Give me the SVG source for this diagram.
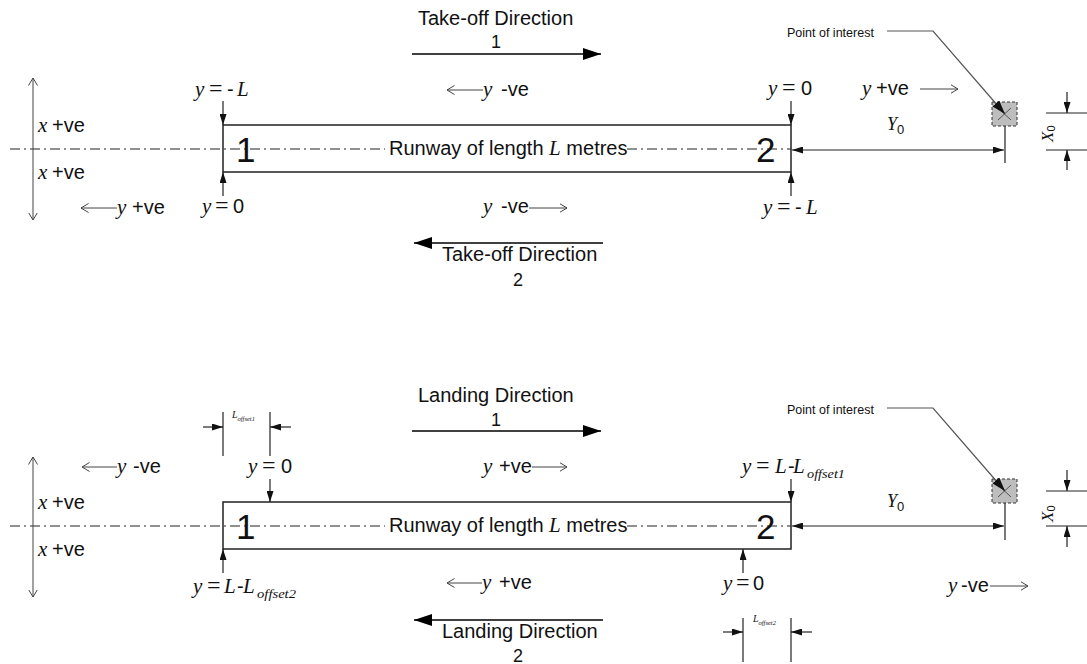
<svg xmlns="http://www.w3.org/2000/svg" width="1087" height="664" viewBox="0 0 1087 664">
<style>
text{font-family:"Liberation Sans",Arial,sans-serif;font-size:20px;fill:#111}
.i{font-family:"Liberation Serif","Times New Roman",serif;font-style:italic;font-size:21px}
.eq{font-family:"Liberation Serif","Times New Roman",serif;font-size:24px}
.sub{font-family:"Liberation Serif","Times New Roman",serif;font-style:italic;font-size:12px}
.big{font-size:35px}
.d{font-size:18px}
.poi{font-size:12.5px}
.rw{fill:#fff;stroke:#222;stroke-width:1.5}
.cl{stroke:#222;stroke-width:1.2;stroke-dasharray:10 4 2 4;fill:none}
.dim{stroke:#222;stroke-width:1.2;fill:none}
.thin{stroke:#444;stroke-width:1;fill:none}
.dir{stroke:#000;stroke-width:1.5;fill:none}
.ld{stroke:#555;stroke-width:1.2;fill:none}
.box{fill:#bdbdbd;stroke:#333;stroke-width:1;stroke-dasharray:3 2}
</style>
<defs>
<marker id="big" viewBox="0 0 18 12" refX="18" refY="6" markerWidth="18" markerHeight="12" markerUnits="userSpaceOnUse" orient="auto"><path d="M0,0 L18,6 L0,12 Z" fill="#000"/></marker>
<marker id="sm" viewBox="0 0 11 7" refX="11" refY="3.5" markerWidth="11" markerHeight="7" markerUnits="userSpaceOnUse" orient="auto-start-reverse"><path d="M0,0 L11,3.5 L0,7 Z" fill="#111"/></marker>
<marker id="op" viewBox="0 0 8 10" refX="7.5" refY="5" markerWidth="8" markerHeight="10" markerUnits="userSpaceOnUse" orient="auto-start-reverse"><path d="M0,0.5 L7.5,5 L0,9.5" fill="none" stroke="#444" stroke-width="1"/></marker>
<marker id="lead" viewBox="0 0 14 9" refX="14" refY="4.5" markerWidth="14" markerHeight="9" markerUnits="userSpaceOnUse" orient="auto"><path d="M0,0 L14,4.5 L0,9 Z" fill="#111"/></marker>
</defs>

<!-- ============ TOP: TAKE-OFF ============ -->
<g id="runway-top">
<rect class="rw" x="223" y="125" width="568" height="47"/>
<line class="cl" x1="10" y1="149" x2="385" y2="149"/>
<line class="cl" x1="627" y1="149" x2="791" y2="149"/>
<text class="big" x="236" y="162">1</text>
<text class="big" x="756" y="162">2</text>
<text x="389" y="155">Runway of length <tspan class="i">L</tspan> metres</text>
</g>
<g id="point-top">
<rect class="box" x="992" y="102" width="25" height="24"/>
<path d="M998,108 L1011,120 M1011,108 L998,120" stroke="#555" stroke-width="1" fill="none"/>
<text class="poi" x="787" y="37">Point of interest</text>
</g>
<g id="labels-top">
<text x="418" y="25">Take-off Direction</text>
<text class="d" x="496" y="48" text-anchor="middle">1</text>
<text x="442" y="261">Take-off Direction</text>
<text class="d" x="518" y="286" text-anchor="middle">2</text>
<text x="38" y="132"><tspan class="i">x</tspan><tspan x="52">+ve</tspan></text>
<text x="38" y="179"><tspan class="i">x</tspan><tspan x="52">+ve</tspan></text>
<text x="117" y="214"><tspan class="i">y</tspan><tspan x="132">+ve</tspan></text>
<text x="195" y="96"><tspan class="i">y</tspan><tspan class="eq" x="209">=</tspan><tspan x="227">-</tspan><tspan class="i" x="237">L</tspan></text>
<text x="202" y="213"><tspan class="i">y</tspan><tspan class="eq" x="215">=</tspan><tspan x="233">0</tspan></text>
<text x="483" y="96"><tspan class="i">y</tspan><tspan x="501">-ve</tspan></text>
<text x="483" y="213"><tspan class="i">y</tspan><tspan x="501">-ve</tspan></text>
<text x="768" y="95"><tspan class="i">y</tspan><tspan class="eq" x="782">=</tspan><tspan x="801">0</tspan></text>
<text x="763" y="214"><tspan class="i">y</tspan><tspan class="eq" x="777">=</tspan><tspan x="795">-</tspan><tspan class="i" x="806">L</tspan></text>
<text x="862" y="95"><tspan class="i">y</tspan><tspan x="876">+ve</tspan></text>
<text x="887" y="130"><tspan class="i" style="font-size:18px">Y</tspan><tspan style="font-size:13px" dy="4">0</tspan></text>
<text transform="translate(1053,142) rotate(-90)"><tspan class="i" style="font-size:17px">X</tspan><tspan style="font-size:11px" dy="2">0</tspan></text>
</g>

<!-- ============ BOTTOM: LANDING ============ -->
<g id="runway-bottom">
<rect class="rw" x="223" y="502" width="568" height="47"/>
<line class="cl" x1="10" y1="526" x2="385" y2="526"/>
<line class="cl" x1="627" y1="526" x2="791" y2="526"/>
<text class="big" x="236" y="539">1</text>
<text class="big" x="756" y="539">2</text>
<text x="389" y="532">Runway of length <tspan class="i">L</tspan> metres</text>
</g>
<g id="point-bottom">
<rect class="box" x="992" y="479" width="25" height="24"/>
<path d="M998,485 L1011,497 M1011,485 L998,497" stroke="#555" stroke-width="1" fill="none"/>
<text class="poi" x="787" y="414">Point of interest</text>
</g>
<g id="labels-bottom">
<text x="418" y="402">Landing Direction</text>
<text class="d" x="496" y="426" text-anchor="middle">1</text>
<text x="442" y="638">Landing Direction</text>
<text class="d" x="518" y="662" text-anchor="middle">2</text>
<text x="38" y="509"><tspan class="i">x</tspan><tspan x="52">+ve</tspan></text>
<text x="38" y="556"><tspan class="i">x</tspan><tspan x="52">+ve</tspan></text>
<text x="117" y="473"><tspan class="i">y</tspan><tspan x="133">-ve</tspan></text>
<text x="248" y="473"><tspan class="i">y</tspan><tspan class="eq" x="262">=</tspan><tspan x="281">0</tspan></text>
<text x="193" y="593"><tspan class="i">y</tspan><tspan class="eq" x="207">=</tspan><tspan class="i" x="224">L</tspan><tspan x="237">-</tspan><tspan class="i" x="243">L</tspan><tspan class="sub" x="257" dy="5" textLength="39" lengthAdjust="spacingAndGlyphs">offset2</tspan></text>
<text x="483" y="473"><tspan class="i">y</tspan><tspan x="499">+ve</tspan></text>
<text x="482" y="589"><tspan class="i">y</tspan><tspan x="499">+ve</tspan></text>
<text x="742" y="473"><tspan class="i">y</tspan><tspan class="eq" x="756">=</tspan><tspan class="i" x="775">L</tspan><tspan x="788">-</tspan><tspan class="i" x="793">L</tspan><tspan class="sub" x="807" dy="5" textLength="38" lengthAdjust="spacingAndGlyphs">offset1</tspan></text>
<text x="723" y="590"><tspan class="i">y</tspan><tspan class="eq" x="736">=</tspan><tspan x="753">0</tspan></text>
<text x="948" y="592"><tspan class="i">y</tspan><tspan x="961">-ve</tspan></text>
<text x="232" y="418"><tspan class="i" style="font-size:10px">L</tspan><tspan class="i" style="font-size:6.5px" dy="3">offset1</tspan></text>
<text x="753" y="622"><tspan class="i" style="font-size:10px">L</tspan><tspan class="i" style="font-size:6.5px" dy="3">offset2</tspan></text>
<text x="887" y="507"><tspan class="i" style="font-size:18px">Y</tspan><tspan style="font-size:13px" dy="4">0</tspan></text>
<text transform="translate(1053,522) rotate(-90)"><tspan class="i" style="font-size:17px">X</tspan><tspan style="font-size:11px" dy="2">0</tspan></text>
</g>

<g id="connectors">
<!-- top -->
<line class="dir" x1="412" y1="54" x2="601" y2="54" marker-end="url(#big)"/>
<line class="dir" x1="603" y1="243" x2="414" y2="243" marker-end="url(#big)"/>
<line class="thin" x1="33" y1="78" x2="33" y2="220" marker-start="url(#op)" marker-end="url(#op)"/>
<line class="thin" x1="117" y1="208" x2="81" y2="208" marker-end="url(#op)"/>
<line class="thin" x1="483" y1="90" x2="447" y2="90" marker-end="url(#op)"/>
<line class="thin" x1="529" y1="208" x2="567" y2="208" marker-end="url(#op)"/>
<line class="thin" x1="920" y1="89" x2="958" y2="89" marker-end="url(#op)"/>
<line class="dim" x1="223" y1="101" x2="223" y2="125" marker-end="url(#sm)"/>
<line class="dim" x1="223" y1="196" x2="223" y2="172" marker-end="url(#sm)"/>
<line class="dim" x1="791" y1="101" x2="791" y2="125" marker-end="url(#sm)"/>
<line class="dim" x1="791" y1="196" x2="791" y2="172" marker-end="url(#sm)"/>
<line class="dim" x1="792" y1="150" x2="1004" y2="150" marker-start="url(#sm)" marker-end="url(#sm)"/>
<line class="dim" x1="1005" y1="126" x2="1005" y2="163"/>
<line class="dim" x1="1046" y1="113" x2="1087" y2="113"/>
<line class="dim" x1="1046" y1="150" x2="1087" y2="150"/>
<line class="dim" x1="1067" y1="92" x2="1067" y2="113" marker-end="url(#sm)"/>
<line class="dim" x1="1067" y1="170" x2="1067" y2="150" marker-end="url(#sm)"/>
<polyline class="ld" points="887,31 933,31 1005,114" marker-end="url(#lead)"/>
<!-- bottom -->
<line class="dir" x1="412" y1="431" x2="601" y2="431" marker-end="url(#big)"/>
<line class="dir" x1="603" y1="620" x2="414" y2="620" marker-end="url(#big)"/>
<line class="thin" x1="33" y1="457" x2="33" y2="597" marker-start="url(#op)" marker-end="url(#op)"/>
<line class="thin" x1="117" y1="467" x2="82" y2="467" marker-end="url(#op)"/>
<line class="thin" x1="532" y1="467" x2="567" y2="467" marker-end="url(#op)"/>
<line class="thin" x1="482" y1="583" x2="447" y2="583" marker-end="url(#op)"/>
<line class="thin" x1="990" y1="586" x2="1028" y2="586" marker-end="url(#op)"/>
<line class="dim" x1="270" y1="479" x2="270" y2="502" marker-end="url(#sm)"/>
<line class="dim" x1="223" y1="573" x2="223" y2="549" marker-end="url(#sm)"/>
<line class="dim" x1="791" y1="479" x2="791" y2="502" marker-end="url(#sm)"/>
<line class="dim" x1="743" y1="573" x2="743" y2="549" marker-end="url(#sm)"/>
<line class="dim" x1="223" y1="412" x2="223" y2="456"/>
<line class="dim" x1="270" y1="412" x2="270" y2="456"/>
<line class="dim" x1="203" y1="427" x2="223" y2="427" marker-end="url(#sm)"/>
<line class="dim" x1="291" y1="427" x2="270" y2="427" marker-end="url(#sm)"/>
<line class="dim" x1="743" y1="618" x2="743" y2="662"/>
<line class="dim" x1="791" y1="618" x2="791" y2="662"/>
<line class="dim" x1="723" y1="632" x2="743" y2="632" marker-end="url(#sm)"/>
<line class="dim" x1="812" y1="632" x2="791" y2="632" marker-end="url(#sm)"/>
<line class="dim" x1="792" y1="526" x2="1004" y2="526" marker-start="url(#sm)" marker-end="url(#sm)"/>
<line class="dim" x1="1005" y1="503" x2="1005" y2="540"/>
<line class="dim" x1="1046" y1="491" x2="1087" y2="491"/>
<line class="dim" x1="1046" y1="526" x2="1087" y2="526"/>
<line class="dim" x1="1067" y1="470" x2="1067" y2="491" marker-end="url(#sm)"/>
<line class="dim" x1="1067" y1="547" x2="1067" y2="526" marker-end="url(#sm)"/>
<polyline class="ld" points="887,408 933,408 1005,491" marker-end="url(#lead)"/>
</g>
</svg>
